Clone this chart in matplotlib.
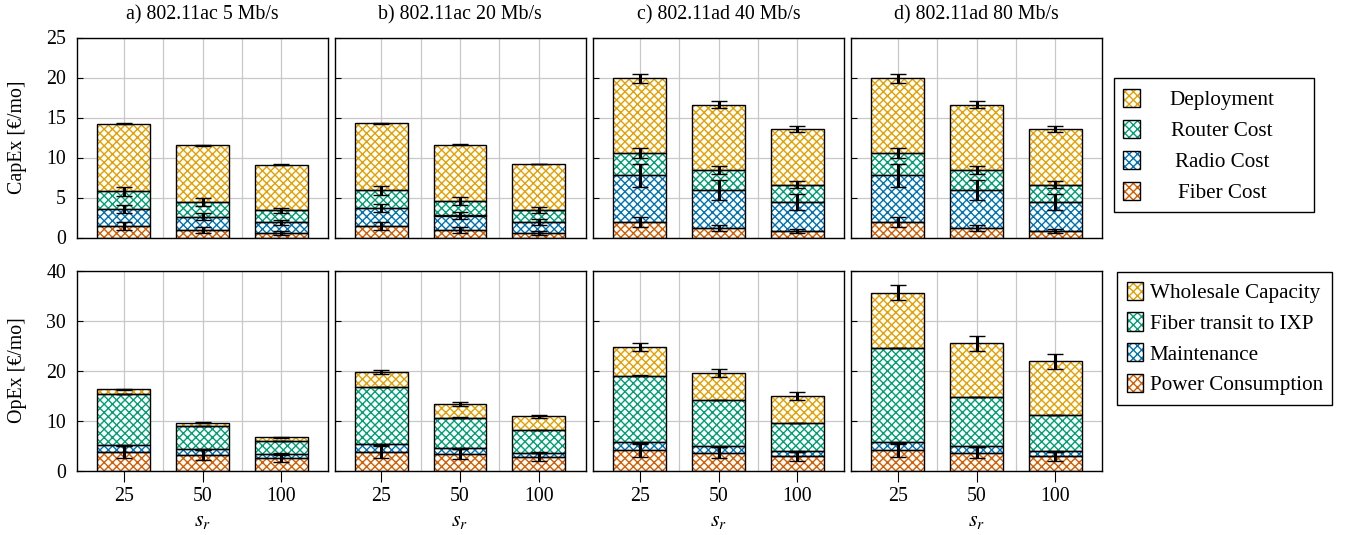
import numpy as np
import matplotlib
matplotlib.use("Agg")
import matplotlib.pyplot as plt
from matplotlib.patches import Patch, Rectangle
from matplotlib.ticker import FixedLocator

plt.rcParams["font.family"] = ["Liberation Serif", "DejaVu Serif"]
plt.rcParams["mathtext.fontset"] = "stix"
plt.rcParams["font.size"] = 14.3
plt.rcParams["hatch.linewidth"] = 1.0

# categories and panel titles
sr_labels = ["25", "50", "100"]
titles = ["a) 802.11ac 5 Mb/s", "b) 802.11ac 20 Mb/s",
          "c) 802.11ad 40 Mb/s", "d) 802.11ad 80 Mb/s"]

# stack order is bottom -> top
capex_names = ["Fiber Cost", "Radio Cost", "Router Cost", "Deployment"]
opex_names = ["Power Consumption", "Maintenance", "Fiber transit to IXP", "Wholesale Capacity"]
colors = ["#D55E00", "#0072B2", "#009E73", "#E69F00"]

# CapEx segments [€/mo], one row per panel (a..d), one value per s_r
capex_fiber = [[1.5, 0.95, 0.6], [1.5, 0.95, 0.6], [1.95, 1.2, 0.8], [1.95, 1.2, 0.8]]
capex_radio = [[2.1, 1.65, 1.3], [2.2, 1.8, 1.35], [5.85, 4.75, 3.65], [5.85, 4.75, 3.65]]
capex_router = [[2.2, 1.85, 1.5], [2.2, 1.85, 1.5], [2.8, 2.5, 2.15], [2.8, 2.5, 2.15]]
capex_deploy = [[8.4, 7.05, 5.7], [8.4, 7.0, 5.75], [9.3, 8.15, 7.0], [9.3, 8.15, 7.0]]

capex_fiber_err = [[0.5, 0.38, 0.27], [0.5, 0.38, 0.27], [0.65, 0.4, 0.25], [0.65, 0.4, 0.25]]
capex_radio_err = [[0.5, 0.44, 0.35], [0.5, 0.44, 0.35], [1.45, 1.2, 0.95], [1.45, 1.2, 0.95]]
capex_router_err = [[0.55, 0.48, 0.35], [0.55, 0.48, 0.35], [0.6, 0.55, 0.45], [0.6, 0.55, 0.45]]
capex_deploy_err = [[0.05, 0.05, 0.05], [0.05, 0.05, 0.05], [0.6, 0.45, 0.35], [0.6, 0.45, 0.35]]

# OpEx segments [€/mo]
opex_power = [[3.7, 3.1, 2.5], [3.7, 3.3, 2.7], [4.1, 3.6, 2.9], [4.1, 3.6, 2.9]]
opex_maint = [[1.35, 1.2, 0.85], [1.6, 1.2, 0.9], [1.55, 1.3, 1.0], [1.55, 1.3, 1.0]]
opex_transit = [[10.25, 4.6, 2.55], [11.4, 6.1, 4.5], [13.35, 9.2, 5.6], [18.85, 9.8, 7.2]]
opex_wholesale = [[1.0, 0.7, 0.8], [3.0, 2.7, 2.8], [5.7, 5.4, 5.4], [11.1, 10.8, 10.8]]

opex_power_err = [[1.15, 0.95, 0.7], [1.2, 1.0, 0.8], [1.3, 1.1, 0.9], [1.3, 1.1, 0.9]]
opex_maint_err = [[0.1, 0.1, 0.1], [0.1, 0.1, 0.1], [0.1, 0.1, 0.1], [0.1, 0.1, 0.1]]
opex_transit_err = [[0.05, 0.05, 0.05], [0.05, 0.05, 0.05], [0.05, 0.05, 0.05], [0.05, 0.05, 0.05]]
opex_wholesale_err = [[0.1, 0.1, 0.1], [0.45, 0.4, 0.3], [0.85, 0.85, 0.8], [1.55, 1.5, 1.5]]

capex_segments = [capex_fiber, capex_radio, capex_router, capex_deploy]
capex_errors = [capex_fiber_err, capex_radio_err, capex_router_err, capex_deploy_err]
opex_segments = [opex_power, opex_maint, opex_transit, opex_wholesale]
opex_errors = [opex_power_err, opex_maint_err, opex_transit_err, opex_wholesale_err]

BAR_WIDTH = 0.67
HATCH = "xxxx"
FS = 14.3
LEG_FS = 15.2


def draw_stack(ax, segments, errors, panel):
    x = np.arange(len(sr_labels))
    bottom = np.zeros(len(x))
    for seg, err, color in zip(segments, errors, colors):
        values = np.asarray(seg[panel])
        # coloured hatch first, black outline on top
        ax.bar(x, values, BAR_WIDTH, bottom=bottom, color="white", edgecolor=color,
               hatch=HATCH, linewidth=0, zorder=2)
        ax.bar(x, values, BAR_WIDTH, bottom=bottom, fill=False, edgecolor="black",
               linewidth=1.0, zorder=3)
        bottom = bottom + values
        ax.errorbar(x, bottom, yerr=err[panel], fmt="none", ecolor="black",
                    elinewidth=2.2, capsize=6, capthick=1.0, zorder=4)


def style_axes(ax, ymax, ystep, show_ylabels, show_xlabels):
    ax.set_xlim(-0.59, 2.59)
    ax.set_ylim(0, ymax)
    ax.set_yticks(np.arange(0, ymax + 1, ystep))
    ax.set_xticks(np.arange(len(sr_labels)))
    ax.xaxis.set_minor_locator(FixedLocator([0.5, 1.5]))
    ax.set_axisbelow(True)
    ax.grid(axis="y", which="major", color="#c8c8c8", linewidth=0.9)
    ax.grid(axis="x", which="both", color="#c8c8c8", linewidth=0.9)
    ax.tick_params(axis="y", direction="in", length=4, pad=8, labelsize=FS,
                   labelleft=show_ylabels)
    ax.tick_params(axis="x", which="minor", length=0)
    if show_xlabels:
        ax.set_xticklabels(sr_labels)
        ax.tick_params(axis="x", which="major", direction="out", length=8, width=0.8,
                       pad=4, labelsize=FS)
        ax.set_xlabel("$s_r$", fontsize=16, labelpad=4)
    else:
        ax.tick_params(axis="x", which="major", length=0, labelbottom=False)
    for spine in ax.spines.values():
        spine.set_linewidth(1.0)


fig = plt.figure(figsize=(13.45, 5.35), dpi=100)
W, H = 1345.0, 535.0
lefts = [77, 334.5, 593, 851]
width = 251

for panel in range(4):
    ax_top = fig.add_axes([lefts[panel] / W, (H - 237.5) / H, width / W, 200 / H])
    draw_stack(ax_top, capex_segments, capex_errors, panel)
    style_axes(ax_top, 25, 5, panel == 0, False)
    ax_top.set_title(titles[panel], fontsize=FS, pad=13)

    ax_bot = fig.add_axes([lefts[panel] / W, (H - 470.5) / H, width / W, 200 / H])
    draw_stack(ax_bot, opex_segments, opex_errors, panel)
    style_axes(ax_bot, 40, 10, panel == 0, True)

    if panel == 0:
        ax_top.set_ylabel("CapEx [€/mo]", fontsize=FS)
        ax_top.yaxis.set_label_coords(-0.2, 0.5)
        ax_bot.set_ylabel("OpEx [€/mo]", fontsize=FS)
        ax_bot.yaxis.set_label_coords(-0.2, 0.5)


def legend_handles():
    return [(Patch(facecolor="white", edgecolor=c, hatch=HATCH, linewidth=0),
             Patch(fill=False, edgecolor="black", linewidth=1.0)) for c in colors[::-1]]


# CapEx legend: centred labels inside a hand-drawn frame
leg_top = fig.legend(legend_handles(), capex_names[::-1], loc="upper left",
                     bbox_to_anchor=(1123 / W, 1 - 89 / H), borderaxespad=0, borderpad=0,
                     frameon=False, handlelength=0.8, handleheight=0.95,
                     handletextpad=0.5, labelspacing=0.45, fontsize=LEG_FS)
fig.add_artist(Rectangle((1114 / W, 1 - 212 / H), 200 / W, 134 / H,
                         transform=fig.transFigure, fill=False, edgecolor="black",
                         linewidth=1.0))

# OpEx legend: regular framed legend
leg_bot = fig.legend(legend_handles(), opex_names[::-1], loc="upper left",
                     bbox_to_anchor=(1117 / W, 1 - 272 / H), borderaxespad=0, borderpad=0.45,
                     fancybox=False, edgecolor="black", framealpha=1,
                     handlelength=0.8, handleheight=0.95, handletextpad=0.3,
                     labelspacing=0.45, fontsize=LEG_FS)
leg_bot.get_frame().set_linewidth(1.0)

# centre the CapEx labels around x = 1222 px
fig.canvas.draw()
renderer = fig.canvas.get_renderer()
for text in leg_top.get_texts():
    bb = text.get_window_extent(renderer)
    text.set_x(1222 - (bb.x0 + bb.width / 2))

fig.savefig("out.png", dpi=100)
